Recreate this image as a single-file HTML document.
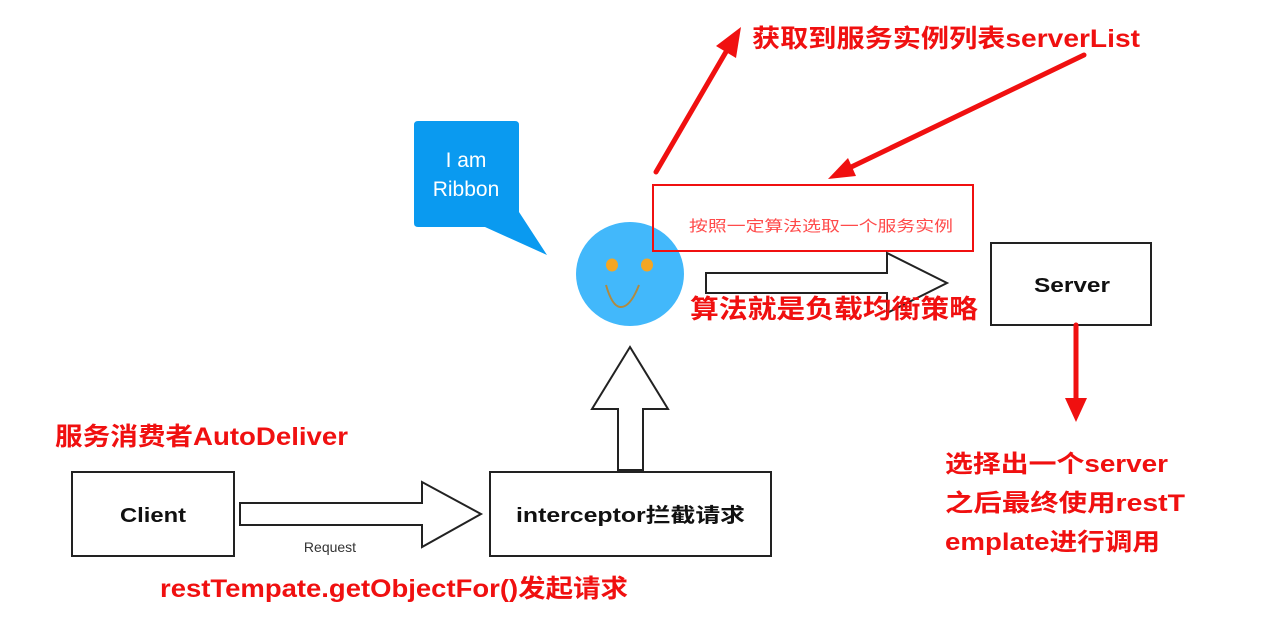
<!DOCTYPE html>
<html><head><meta charset="utf-8"><style>
html,body{margin:0;padding:0;background:#fff;}
svg{display:block;font-family:"Liberation Sans","Noto Sans CJK SC",sans-serif;}
</style></head><body>
<svg width="1280" height="621" viewBox="0 0 1280 621" xmlns="http://www.w3.org/2000/svg">
<!-- callout -->
<path d="M418 121 H515 Q519 121 519 125 V212 L547 255 L485 227 H418 Q414 227 414 223 V125 Q414 121 418 121 Z" fill="#0a9af0"/>
<text x="466" y="167" font-size="21" fill="#fff" text-anchor="middle">I am</text>
<text x="466" y="196" font-size="21" fill="#fff" text-anchor="middle">Ribbon</text>
<!-- face -->
<ellipse cx="630" cy="274" rx="54" ry="52" fill="#42b8fb"/>
<ellipse cx="612" cy="265" rx="6" ry="6.5" fill="#f5a623"/>
<ellipse cx="647" cy="265" rx="6" ry="6.5" fill="#f5a623"/>
<path d="M606 285 Q612 306 620 307 Q630 308 639 285" fill="none" stroke="#b08a40" stroke-width="2"/>
<!-- red box -->
<rect x="653" y="185" width="320" height="66" fill="none" stroke="#f01010" stroke-width="2"/>
<text x="689" y="231" font-size="15" fill="#ff4a4a" textLength="264" lengthAdjust="spacingAndGlyphs">按照一定算法选取一个服务实例</text>
<!-- right hollow arrow -->
<path d="M706 273 H887 V253 L947 283 L887 313 V293 H706 Z" fill="#fff" stroke="#222" stroke-width="2"/>
<text x="690" y="318" font-size="26" font-weight="bold" fill="#f01010" textLength="288" lengthAdjust="spacingAndGlyphs">算法就是负载均衡策略</text>
<!-- server -->
<rect x="991" y="243" width="160" height="82" fill="#fff" stroke="#222" stroke-width="2"/>
<text x="1034" y="292" font-size="20" font-weight="bold" fill="#111" textLength="76" lengthAdjust="spacingAndGlyphs">Server</text>
<!-- red arrows -->
<g stroke="#f01010" stroke-width="5" fill="none" stroke-linecap="round">
<line x1="656" y1="172" x2="730" y2="45"/>
<line x1="1084" y1="55" x2="845" y2="170"/>
<line x1="1076" y1="325" x2="1076" y2="400"/>
</g>
<g fill="#f01010">
<polygon points="741,27 736,58 716,46"/>
<polygon points="828,179 848,158 856,176"/>
<polygon points="1076,422 1065,398 1087,398"/>
</g>
<text x="752" y="47" font-size="25" font-weight="bold" fill="#f01010" textLength="388" lengthAdjust="spacingAndGlyphs">获取到服务实例列表serverList</text>
<text x="945" y="472" font-size="24" font-weight="bold" fill="#f01010" textLength="223" lengthAdjust="spacingAndGlyphs">选择出一个server</text>
<text x="945" y="511" font-size="24" font-weight="bold" fill="#f01010" textLength="240" lengthAdjust="spacingAndGlyphs">之后最终使用restT</text>
<text x="945" y="550" font-size="24" font-weight="bold" fill="#f01010" textLength="215" lengthAdjust="spacingAndGlyphs">emplate进行调用</text>
<!-- up hollow arrow -->
<path d="M618 470 V409 H592 L630 347 L668 409 H643 V470 Z" fill="#fff" stroke="#222" stroke-width="2"/>
<!-- interceptor -->
<rect x="490" y="472" width="281" height="84" fill="#fff" stroke="#222" stroke-width="2"/>
<text x="516" y="522" font-size="20" font-weight="bold" fill="#111" textLength="229" lengthAdjust="spacingAndGlyphs">interceptor拦截请求</text>
<!-- client -->
<rect x="72" y="472" width="162" height="84" fill="#fff" stroke="#222" stroke-width="2"/>
<text x="120" y="522" font-size="20" font-weight="bold" fill="#111" textLength="66" lengthAdjust="spacingAndGlyphs">Client</text>
<!-- request arrow -->
<path d="M240 503 H422 V482 L481 514 L422 547 V525 H240 Z" fill="#fff" stroke="#222" stroke-width="2"/>
<text x="330" y="552" font-size="14" fill="#333" text-anchor="middle">Request</text>
<text x="55" y="445" font-size="25" font-weight="bold" fill="#f01010" textLength="293" lengthAdjust="spacingAndGlyphs">服务消费者AutoDeliver</text>
<text x="160" y="597" font-size="25" font-weight="bold" fill="#f01010" textLength="468" lengthAdjust="spacingAndGlyphs">restTempate.getObjectFor()发起请求</text>
</svg>
</body></html>
